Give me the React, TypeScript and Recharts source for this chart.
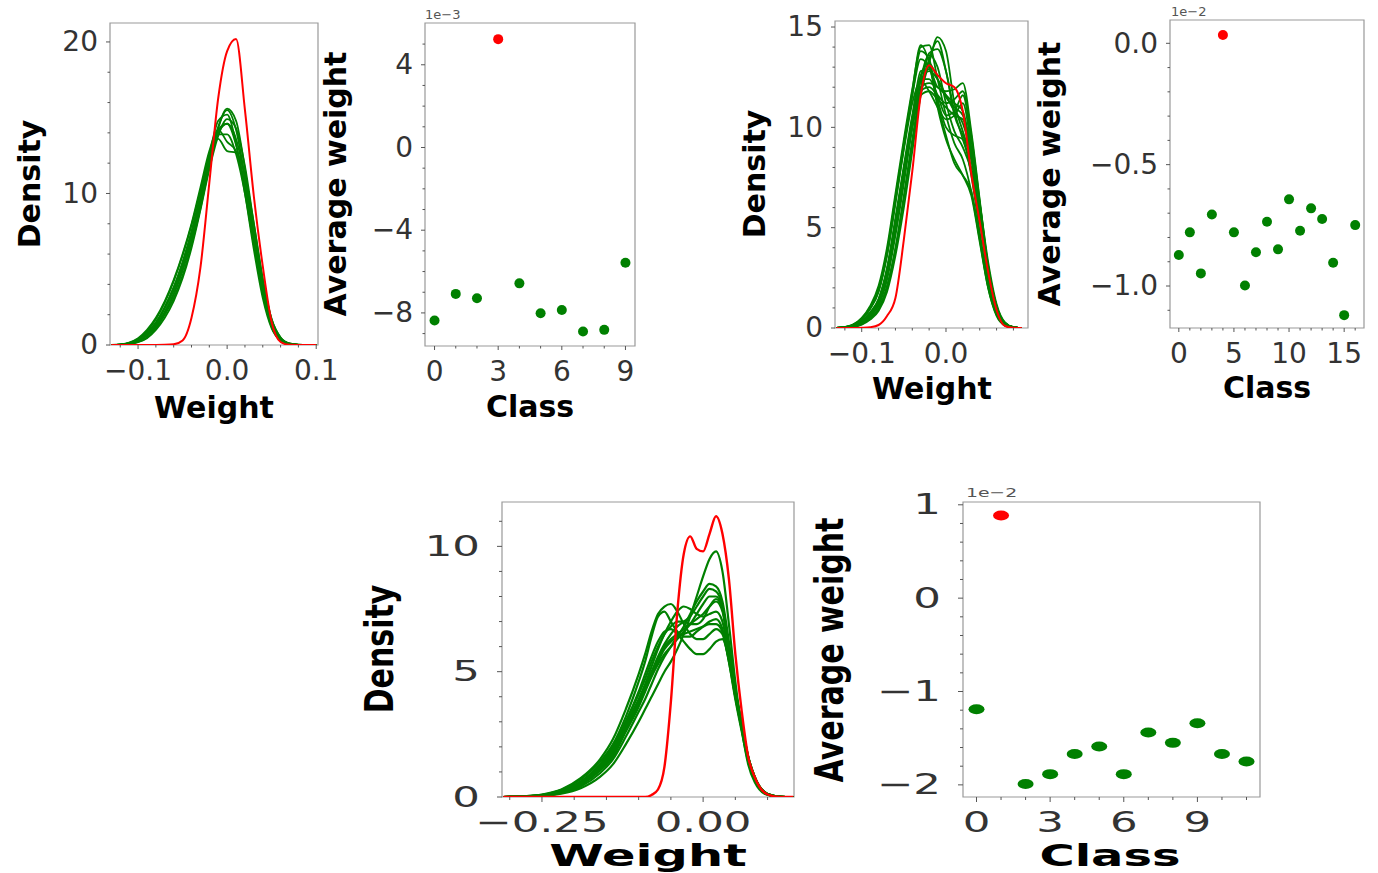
import React from "react";
import {
  LineChart,
  Line,
  ScatterChart,
  Scatter,
  XAxis,
  YAxis,
  ReferenceArea,
  Label,
} from "recharts";

const FONT = "DejaVu Sans";
const GREEN = "#008000";
const RED = "#ff0000";
// room around each plot box for ticks and titles
const PAD = { l: 180, t: 30, r: 40, b: 90 };

// ---------- top left: weight densities ----------
const gridA = [-0.13, -0.12, -0.11, -0.1, -0.09, -0.08, -0.07, -0.06, -0.05, -0.04, -0.03, -0.02, -0.01, 0.0, 0.01, 0.02, 0.03, 0.04, 0.05, 0.06, 0.07, 0.08, 0.09, 0.1];
const redA = [0, 0, 0, 0, 0, 0, 0.01, 0.05, 0.3, 1.8, 5.1, 10.7, 16.3, 19.4, 20.2, 15.5, 9.8, 5.2, 1.5, 0.2, 0.01, 0, 0, 0];
const greenA = [
  [0, 0.02, 0.08, 0.25, 0.6, 1.2, 2.1, 3.3, 4.9, 6.9, 9.3, 12.0, 14.4, 15.5, 14.2, 11.0, 7.0, 3.6, 1.3, 0.35, 0.07, 0.01, 0, 0],
  [0, 0.03, 0.12, 0.35, 0.8, 1.5, 2.5, 3.8, 5.4, 7.4, 9.8, 12.5, 14.8, 15.2, 13.3, 10.0, 6.3, 3.1, 1.1, 0.3, 0.06, 0.01, 0, 0],
  [0, 0.01, 0.05, 0.18, 0.45, 1.0, 1.8, 2.9, 4.4, 6.4, 8.9, 11.6, 13.8, 14.9, 14.3, 11.8, 8.0, 4.3, 1.7, 0.5, 0.1, 0.02, 0, 0],
  [0, 0.02, 0.1, 0.3, 0.7, 1.4, 2.4, 3.6, 5.2, 7.2, 9.6, 12.2, 14.2, 14.6, 13.2, 10.3, 6.7, 3.4, 1.2, 0.3, 0.06, 0.01, 0, 0],
  [0, 0.03, 0.14, 0.4, 0.9, 1.7, 2.8, 4.2, 5.9, 7.9, 10.2, 12.5, 13.9, 13.9, 12.6, 10.0, 6.6, 3.5, 1.4, 0.4, 0.08, 0.01, 0, 0],
  [0, 0.02, 0.09, 0.28, 0.65, 1.3, 2.2, 3.4, 5.0, 7.0, 9.4, 12.0, 14.0, 14.6, 13.6, 11.0, 7.4, 3.9, 1.5, 0.4, 0.08, 0.01, 0, 0],
  [0, 0.04, 0.16, 0.45, 1.0, 1.8, 2.9, 4.3, 6.0, 8.0, 10.4, 12.8, 14.2, 13.4, 12.8, 10.6, 7.2, 3.8, 1.4, 0.35, 0.07, 0.01, 0, 0],
  [0, 0.01, 0.06, 0.2, 0.5, 1.1, 2.0, 3.1, 4.6, 6.6, 9.0, 11.8, 14.3, 15.6, 14.8, 11.6, 7.3, 3.6, 1.2, 0.3, 0.05, 0.01, 0, 0],
  [0, 0.02, 0.1, 0.32, 0.75, 1.45, 2.5, 3.8, 5.5, 7.5, 9.9, 12.3, 13.6, 12.8, 12.7, 11.2, 8.0, 4.4, 1.7, 0.5, 0.1, 0.02, 0, 0],
];

// ---------- top: average weight per class (x1e-3) ----------
const avgA = [-8.37, -7.08, -7.29, 5.24, -6.57, -8.02, -7.86, -8.9, -8.82, -5.57];
const redClassA = 3;

// ---------- top right: weight densities ----------
const gridB = [-0.13, -0.12, -0.11, -0.1, -0.09, -0.08, -0.07, -0.06, -0.05, -0.04, -0.03, -0.02, -0.01, 0.0, 0.01, 0.02, 0.03, 0.04, 0.05, 0.06, 0.07, 0.08, 0.09];
const redB = [0, 0, 0, 0.01, 0.04, 0.15, 0.6, 1.5, 4.4, 7.8, 11.6, 13.1, 12.6, 12.2, 12.0, 10.8, 7.7, 5.3, 2.8, 0.9, 0.1, 0.01, 0];
const greenB = [
  [0, 0.03, 0.1, 0.3, 0.7, 1.3, 2.8, 5.2, 7.8, 10.4, 12.6, 13.2, 12.4, 11.5, 11.0, 10.6, 8.6, 5.6, 2.7, 0.9, 0.2, 0.03, 0],
  [0, 0.05, 0.18, 0.5, 1.1, 2.1, 4.0, 6.7, 9.4, 11.9, 14.0, 14.1, 12.4, 10.6, 9.2, 8.4, 6.8, 4.4, 2.0, 0.6, 0.12, 0.02, 0],
  [0, 0.02, 0.07, 0.2, 0.5, 0.95, 2.0, 3.9, 6.4, 9.2, 11.8, 13.4, 14.3, 12.8, 10.6, 9.6, 8.4, 6.0, 3.1, 1.1, 0.25, 0.04, 0],
  [0, 0.03, 0.11, 0.32, 0.75, 1.4, 2.9, 5.3, 7.9, 10.2, 11.8, 12.0, 11.6, 11.2, 11.4, 11.8, 9.6, 6.3, 3.0, 1.0, 0.22, 0.04, 0],
  [0, 0.01, 0.05, 0.16, 0.42, 0.85, 1.8, 3.6, 6.0, 8.8, 11.6, 13.2, 14.5, 13.8, 11.2, 9.8, 8.4, 6.2, 3.3, 1.2, 0.28, 0.04, 0],
  [0, 0.05, 0.16, 0.45, 1.0, 1.9, 3.7, 6.3, 8.9, 11.2, 12.3, 11.8, 11.0, 10.4, 10.6, 11.2, 9.0, 5.6, 2.5, 0.8, 0.16, 0.03, 0],
  [0, 0.04, 0.15, 0.42, 0.95, 1.8, 3.6, 6.2, 9.0, 11.6, 13.8, 13.4, 11.2, 9.6, 8.2, 7.6, 6.8, 4.5, 2.1, 0.7, 0.14, 0.02, 0],
  [0, 0.03, 0.1, 0.3, 0.72, 1.35, 2.85, 5.3, 7.9, 10.5, 12.8, 12.9, 12.0, 11.8, 11.9, 12.2, 9.8, 6.4, 3.1, 1.1, 0.24, 0.04, 0],
  [0, 0.02, 0.06, 0.19, 0.48, 0.95, 2.1, 4.0, 6.6, 9.4, 11.9, 13.7, 13.9, 12.8, 10.8, 9.4, 8.0, 5.6, 2.8, 1.0, 0.22, 0.03, 0],
  [0, 0.04, 0.15, 0.44, 0.98, 1.85, 3.7, 6.4, 9.1, 11.6, 13.4, 13.0, 11.4, 10.0, 9.6, 9.4, 7.6, 4.8, 2.2, 0.7, 0.15, 0.02, 0],
  [0, 0.03, 0.1, 0.31, 0.72, 1.35, 2.8, 5.1, 7.6, 10.0, 11.6, 11.8, 11.4, 11.0, 10.6, 10.4, 8.8, 5.8, 2.8, 0.95, 0.22, 0.04, 0],
  [0, 0.02, 0.08, 0.24, 0.58, 1.1, 2.4, 4.6, 7.2, 10.0, 12.4, 13.6, 13.0, 11.2, 9.8, 9.0, 7.8, 5.4, 2.7, 0.9, 0.2, 0.03, 0],
  [0, 0.03, 0.11, 0.34, 0.78, 1.45, 3.0, 5.5, 8.1, 10.6, 12.4, 12.4, 11.6, 10.6, 10.8, 11.6, 9.4, 6.2, 3.0, 1.0, 0.22, 0.04, 0],
  [0, 0.03, 0.09, 0.29, 0.68, 1.25, 2.7, 5.0, 7.6, 10.1, 12.0, 12.2, 12.0, 11.6, 11.2, 10.8, 8.8, 5.7, 2.7, 0.9, 0.2, 0.03, 0],
  [0, 0.04, 0.16, 0.46, 1.02, 1.95, 3.8, 6.5, 9.2, 11.8, 14.1, 13.2, 11.0, 9.4, 8.4, 7.6, 6.6, 4.3, 2.0, 0.65, 0.13, 0.02, 0],
  [0, 0.02, 0.09, 0.27, 0.64, 1.2, 2.6, 4.9, 7.5, 10.1, 12.3, 12.8, 12.4, 11.6, 10.8, 10.2, 8.6, 5.9, 3.0, 1.05, 0.24, 0.04, 0],
];

// ---------- top right: average weight per class (x1e-2) ----------
const avgB = [-0.872, -0.779, -0.948, -0.705, 0.034, -0.779, -0.998, -0.861, -0.735, -0.849, -0.643, -0.772, -0.68, -0.724, -0.904, -1.12, -0.749];
const redClassB = 4;

// ---------- bottom: weight densities ----------
const gridC = [-0.31, -0.28, -0.25, -0.22, -0.19, -0.16, -0.14, -0.12, -0.1, -0.09, -0.08, -0.07, -0.06, -0.05, -0.04, -0.03, -0.02, -0.01, 0.0, 0.01, 0.02, 0.03, 0.04, 0.05, 0.06, 0.07, 0.08, 0.1, 0.12, 0.14];
const redC = [0, 0, 0, 0, 0, 0, 0, 0, 0, 0, 0.08, 0.3, 1.2, 3.8, 7.4, 9.7, 10.4, 9.9, 9.8, 10.5, 11.2, 10.5, 8.7, 5.7, 3.4, 1.6, 0.8, 0.1, 0, 0];
const greenC = [
  [0, 0.02, 0.06, 0.2, 0.5, 1.1, 1.7, 2.7, 3.7, 4.3, 4.9, 5.5, 6.0, 6.3, 6.5, 6.7, 6.9, 7.1, 7.3, 7.6, 7.8, 7.4, 5.8, 4.2, 2.9, 1.6, 0.8, 0.12, 0.01, 0],
  [0, 0.03, 0.09, 0.28, 0.7, 1.4, 2.1, 3.2, 4.6, 5.4, 6.4, 7.2, 7.4, 7.0, 6.6, 6.4, 6.4, 6.6, 6.8, 7.0, 7.1, 6.7, 5.4, 3.9, 2.6, 1.4, 0.7, 0.1, 0.01, 0],
  [0, 0.01, 0.04, 0.13, 0.35, 0.8, 1.3, 2.1, 3.0, 3.5, 4.0, 4.5, 5.0, 5.4, 5.9, 6.5, 7.2, 8.0, 8.8, 9.5, 9.8, 9.0, 6.9, 4.6, 2.7, 1.3, 0.6, 0.08, 0.01, 0],
  [0, 0.02, 0.07, 0.22, 0.55, 1.2, 1.8, 2.9, 3.9, 4.5, 5.2, 5.9, 6.5, 7.0, 7.4, 7.6, 7.5, 7.3, 7.2, 7.3, 7.4, 7.0, 5.6, 4.0, 2.7, 1.5, 0.75, 0.11, 0.01, 0],
  [0, 0.01, 0.05, 0.16, 0.42, 0.95, 1.5, 2.4, 3.4, 3.9, 4.5, 5.1, 5.6, 6.0, 6.4, 6.8, 7.3, 7.8, 8.2, 8.5, 8.4, 7.8, 6.2, 4.3, 2.8, 1.5, 0.7, 0.1, 0.01, 0],
  [0, 0.03, 0.08, 0.25, 0.62, 1.3, 2.0, 3.0, 4.2, 4.9, 5.6, 6.2, 6.6, 6.7, 6.5, 6.2, 5.9, 5.7, 5.7, 5.9, 6.2, 6.3, 5.5, 4.2, 2.9, 1.6, 0.8, 0.12, 0.01, 0],
  [0, 0.02, 0.06, 0.19, 0.48, 1.05, 1.6, 2.6, 3.6, 4.2, 4.8, 5.3, 5.7, 6.0, 6.3, 6.6, 6.9, 7.3, 7.7, 8.0, 8.0, 7.5, 6.0, 4.3, 2.9, 1.6, 0.8, 0.12, 0.01, 0],
  [0, 0.03, 0.1, 0.3, 0.75, 1.5, 2.3, 3.5, 4.9, 5.7, 6.6, 7.3, 7.6, 7.7, 7.4, 6.9, 6.5, 6.3, 6.3, 6.5, 6.7, 6.5, 5.4, 4.0, 2.7, 1.5, 0.75, 0.11, 0.01, 0],
  [0, 0.02, 0.07, 0.21, 0.52, 1.15, 1.75, 2.8, 3.8, 4.4, 5.0, 5.6, 6.1, 6.5, 6.8, 7.0, 7.2, 7.6, 8.0, 8.3, 8.2, 7.6, 6.0, 4.2, 2.8, 1.5, 0.75, 0.11, 0.01, 0],
  [0, 0.02, 0.06, 0.2, 0.5, 1.1, 1.7, 2.7, 3.7, 4.3, 4.9, 5.4, 5.9, 6.2, 6.4, 6.5, 6.6, 6.7, 6.8, 6.9, 6.9, 6.6, 5.5, 4.1, 2.8, 1.6, 0.8, 0.12, 0.01, 0],
  [0, 0.02, 0.08, 0.24, 0.6, 1.25, 1.9, 3.0, 4.1, 4.7, 5.4, 6.0, 6.5, 6.8, 7.0, 7.0, 6.9, 6.9, 7.1, 7.6, 7.9, 7.5, 5.9, 4.2, 2.8, 1.5, 0.75, 0.11, 0.01, 0],
];

// ---------- bottom: average weight per class (x1e-2) ----------
const avgC = [-1.19, 0.886, -1.99, -1.885, -1.67, -1.59, -1.885, -1.44, -1.55, -1.34, -1.67, -1.75];
const redClassC = 1;

type Major = [number, string];
type Box = { l: number; t: number; w: number; h: number };
type TickStyle = { fs: number; sx: number; xGap: number; yGap: number; major: number; minor: number };

const topStyle: TickStyle = { fs: 28, sx: 1, xGap: 35, yGap: 12, major: 4, minor: 2.5 };
const botStyle: TickStyle = { fs: 29, sx: 1.5, xGap: 35, yGap: 22, major: 5, minor: 3 };

const near = (a: number, b: number) => Math.abs(a - b) < 1e-9;
const allTicks = (maj: Major[], min: number[]) => [...maj.map((m) => m[0]), ...min].sort((a, b) => a - b);

function xTick(maj: Major[], st: TickStyle) {
  return (p: any) => {
    const m = maj.find((q) => near(q[0], p.payload.value));
    return (
      <g>
        <line x1={p.x} x2={p.x} y1={p.y} y2={p.y + (m ? st.major : st.minor)} stroke="#555" strokeWidth={1} />
        {m ? (
          <text
            transform={`translate(${p.x},${p.y + st.xGap}) scale(${st.sx},1)`}
            textAnchor="middle"
            fontFamily={FONT}
            fontSize={st.fs}
            fill="#333"
          >
            {m[1]}
          </text>
        ) : null}
      </g>
    );
  };
}

function yTick(maj: Major[], st: TickStyle) {
  return (p: any) => {
    const m = maj.find((q) => near(q[0], p.payload.value));
    return (
      <g>
        <line x1={p.x} x2={p.x - (m ? st.major : st.minor)} y1={p.y} y2={p.y} stroke="#555" strokeWidth={1} />
        {m ? (
          <text
            transform={`translate(${p.x - st.yGap},${p.y}) scale(${st.sx},1)`}
            textAnchor="end"
            dy="0.33em"
            fontFamily={FONT}
            fontSize={st.fs}
            fill="#333"
          >
            {m[1]}
          </text>
        ) : null}
      </g>
    );
  };
}

function title(x: number, y: number, text: string, vertical: boolean, sx: number) {
  const tf = `translate(${x},${y}) scale(${sx},1)` + (vertical ? " rotate(-90)" : "");
  return (
    <text transform={tf} textAnchor="middle" fontFamily={FONT} fontWeight="bold" fontSize={30} fill="#000">
      {text}
    </text>
  );
}

type PanelProps = {
  box: Box;
  xd: [number, number];
  yd: [number, number];
  xMaj: Major[];
  xMin: number[];
  yMaj: Major[];
  yMin: number[];
  st: TickStyle;
  xTitle: [number, number]; // centre x, baseline y (page)
  yTitle: [number, number]; // baseline x, centre y (page)
  titleSx: [number, number];
};

function DensityPanel(props: PanelProps & { grid: number[]; greens: number[][]; red: number[]; lw: number }) {
  const { box, xd, yd, xMaj, xMin, yMaj, yMin, st, xTitle, yTitle, titleSx, grid, greens, red, lw } = props;
  const ox = box.l - PAD.l;
  const oy = box.t - PAD.t;
  const rows = grid.map((w, i) => {
    const r: any = { w, red: red[i] };
    greens.forEach((g, k) => (r["g" + k] = g[i]));
    return r;
  });
  return (
    <div style={{ position: "absolute", left: ox, top: oy }}>
      <LineChart
        width={PAD.l + box.w + PAD.r}
        height={PAD.t + box.h + PAD.b}
        data={rows}
        margin={{ top: PAD.t, right: PAD.r, left: 0, bottom: 0 }}
      >
        <XAxis
          dataKey="w"
          type="number"
          domain={xd}
          allowDataOverflow
          ticks={allTicks(xMaj, xMin)}
          interval={0}
          tickSize={0}
          tickMargin={0}
          axisLine={false}
          tickLine={false}
          tick={xTick(xMaj, st)}
          height={PAD.b}
        >
          <Label content={() => title(xTitle[0] - ox, xTitle[1] - oy, "Weight", false, titleSx[0])} />
        </XAxis>
        <YAxis
          type="number"
          domain={yd}
          allowDataOverflow
          ticks={allTicks(yMaj, yMin)}
          interval={0}
          tickSize={0}
          tickMargin={0}
          axisLine={false}
          tickLine={false}
          tick={yTick(yMaj, st)}
          width={PAD.l}
        >
          <Label content={() => title(yTitle[0] - ox, yTitle[1] - oy, "Density", true, titleSx[1])} />
        </YAxis>
        <ReferenceArea x1={xd[0]} x2={xd[1]} y1={yd[0]} y2={yd[1]} fill="none" stroke="#999" strokeWidth={1.2} />
        {greens.map((_, k) => (
          <Line
            key={k}
            dataKey={"g" + k}
            type="monotone"
            stroke={GREEN}
            strokeWidth={lw}
            dot={false}
            isAnimationActive={false}
          />
        ))}
        <Line dataKey="red" type="monotone" stroke={RED} strokeWidth={lw + 0.2} dot={false} isAnimationActive={false} />
      </LineChart>
    </div>
  );
}

function AvgPanel(
  props: PanelProps & { avg: number[]; redClass: number; rx: number; ry: number; expo: string; expoPos: [number, number]; expoSx: number }
) {
  const { box, xd, yd, xMaj, xMin, yMaj, yMin, st, xTitle, yTitle, titleSx, avg, redClass, rx, ry, expo, expoPos, expoSx } = props;
  const ox = box.l - PAD.l;
  const oy = box.t - PAD.t;
  const greenPts = avg.map((v, i) => ({ cls: i, val: v })).filter((d) => d.cls !== redClass);
  const redPts = [{ cls: redClass, val: avg[redClass] }];
  const dot = (color: string) => (p: any) => <ellipse cx={p.cx} cy={p.cy} rx={rx} ry={ry} fill={color} />;
  return (
    <div style={{ position: "absolute", left: ox, top: oy }}>
      <ScatterChart
        width={PAD.l + box.w + PAD.r}
        height={PAD.t + box.h + PAD.b}
        margin={{ top: PAD.t, right: PAD.r, left: 0, bottom: 0 }}
      >
        <XAxis
          dataKey="cls"
          type="number"
          domain={xd}
          allowDataOverflow
          ticks={allTicks(xMaj, xMin)}
          interval={0}
          tickSize={0}
          tickMargin={0}
          axisLine={false}
          tickLine={false}
          tick={xTick(xMaj, st)}
          height={PAD.b}
        >
          <Label content={() => title(xTitle[0] - ox, xTitle[1] - oy, "Class", false, titleSx[0])} />
        </XAxis>
        <YAxis
          dataKey="val"
          type="number"
          domain={yd}
          allowDataOverflow
          ticks={allTicks(yMaj, yMin)}
          interval={0}
          tickSize={0}
          tickMargin={0}
          axisLine={false}
          tickLine={false}
          tick={yTick(yMaj, st)}
          width={PAD.l}
        >
          <Label content={() => title(yTitle[0] - ox, yTitle[1] - oy, "Average weight", true, titleSx[1])} />
          <Label
            content={() => (
              <text
                transform={`translate(${expoPos[0] - ox},${expoPos[1] - oy}) scale(${expoSx},1)`}
                fontFamily={FONT}
                fontSize={13}
                fill="#555"
              >
                {expo}
              </text>
            )}
          />
        </YAxis>
        <ReferenceArea x1={xd[0]} x2={xd[1]} y1={yd[0]} y2={yd[1]} fill="none" stroke="#999" strokeWidth={1.2} />
        <Scatter data={greenPts} shape={dot(GREEN)} isAnimationActive={false} />
        <Scatter data={redPts} shape={dot(RED)} isAnimationActive={false} />
      </ScatterChart>
    </div>
  );
}

export default function App() {
  return (
    <div style={{ position: "absolute", left: 0, top: 0, width: 1378, height: 873, background: "#fff", overflow: "hidden" }}>
      <DensityPanel
        box={{ l: 110, t: 23, w: 208, h: 322 }}
        xd={[-0.1315, 0.102]}
        yd={[0, 21.25]}
        xMaj={[[-0.1, "−0.1"], [0, "0.0"], [0.1, "0.1"]]}
        xMin={[-0.12, -0.08, -0.06, -0.04, -0.02, 0.02, 0.04, 0.06, 0.08]}
        yMaj={[[0, "0"], [10, "10"], [20, "20"]]}
        yMin={[2, 4, 6, 8, 12, 14, 16, 18]}
        st={topStyle}
        xTitle={[214, 418]}
        yTitle={[40, 184]}
        titleSx={[1, 1]}
        grid={gridA}
        greens={greenA}
        red={redA}
        lw={1.8}
      />
      <AvgPanel
        box={{ l: 425, t: 23, w: 210, h: 323 }}
        xd={[-0.45, 9.45]}
        yd={[-9.6, 6.02]}
        xMaj={[[0, "0"], [3, "3"], [6, "6"], [9, "9"]]}
        xMin={[1, 2, 4, 5, 7, 8]}
        yMaj={[[-8, "−8"], [-4, "−4"], [0, "0"], [4, "4"]]}
        yMin={[-9, -7, -6, -5, -3, -2, -1, 1, 2, 3, 5]}
        st={topStyle}
        xTitle={[530, 417]}
        yTitle={[346, 184]}
        titleSx={[1, 1]}
        avg={avgA}
        redClass={redClassA}
        rx={5}
        ry={5}
        expo="1e−3"
        expoPos={[425, 19]}
        expoSx={1}
      />
      <DensityPanel
        box={{ l: 835, t: 21, w: 193, h: 307 }}
        xd={[-0.1317, 0.0973]}
        yd={[0, 15.3]}
        xMaj={[[-0.1, "−0.1"], [0, "0.0"]]}
        xMin={[-0.12, -0.08, -0.06, -0.04, -0.02, 0.02, 0.04, 0.06, 0.08]}
        yMaj={[[0, "0"], [5, "5"], [10, "10"], [15, "15"]]}
        yMin={[1, 2, 3, 4, 6, 7, 8, 9, 11, 12, 13, 14]}
        st={topStyle}
        xTitle={[932, 399]}
        yTitle={[765, 174]}
        titleSx={[1, 1]}
        grid={gridB}
        greens={greenB}
        red={redB}
        lw={1.8}
      />
      <AvgPanel
        box={{ l: 1170, t: 20, w: 194, h: 308 }}
        xd={[-0.8, 16.8]}
        yd={[-1.173, 0.096]}
        xMaj={[[0, "0"], [5, "5"], [10, "10"], [15, "15"]]}
        xMin={[1, 2, 3, 4, 6, 7, 8, 9, 11, 12, 13, 14, 16]}
        yMaj={[[-1, "−1.0"], [-0.5, "−0.5"], [0, "0.0"]]}
        yMin={[-1.1, -0.9, -0.8, -0.7, -0.6, -0.4, -0.3, -0.2, -0.1]}
        st={topStyle}
        xTitle={[1267, 398]}
        yTitle={[1060, 174]}
        titleSx={[1, 1]}
        avg={avgB}
        redClass={redClassB}
        rx={5}
        ry={5}
        expo="1e−2"
        expoPos={[1171, 16]}
        expoSx={1}
      />
      <DensityPanel
        box={{ l: 502, t: 502, w: 292, h: 295 }}
        xd={[-0.312, 0.141]}
        yd={[0, 11.77]}
        xMaj={[[-0.25, "−0.25"], [0, "0.00"]]}
        xMin={[-0.3, -0.2, -0.15, -0.1, -0.05, 0.05, 0.1]}
        yMaj={[[0, "0"], [5, "5"], [10, "10"]]}
        yMin={[1, 2, 3, 4, 6, 7, 8, 9, 11]}
        st={botStyle}
        xTitle={[648, 866]}
        yTitle={[393, 649]}
        titleSx={[1.65, 1.3]}
        grid={gridC}
        greens={greenC}
        red={redC}
        lw={2.2}
      />
      <AvgPanel
        box={{ l: 963, t: 502, w: 297, h: 295 }}
        xd={[-0.55, 11.55]}
        yd={[-2.13, 1.03]}
        xMaj={[[0, "0"], [3, "3"], [6, "6"], [9, "9"]]}
        xMin={[1, 2, 4, 5, 7, 8, 10, 11]}
        yMaj={[[-2, "−2"], [-1, "−1"], [0, "0"], [1, "1"]]}
        yMin={[-1.8, -1.6, -1.4, -1.2, -0.8, -0.6, -0.4, -0.2, 0.2, 0.4, 0.6, 0.8]}
        st={botStyle}
        xTitle={[1110, 866]}
        yTitle={[843, 650]}
        titleSx={[1.6, 1.3]}
        avg={avgC}
        redClass={redClassC}
        rx={8}
        ry={5}
        expo="1e−2"
        expoPos={[966, 497]}
        expoSx={1.45}
      />
    </div>
  );
}
